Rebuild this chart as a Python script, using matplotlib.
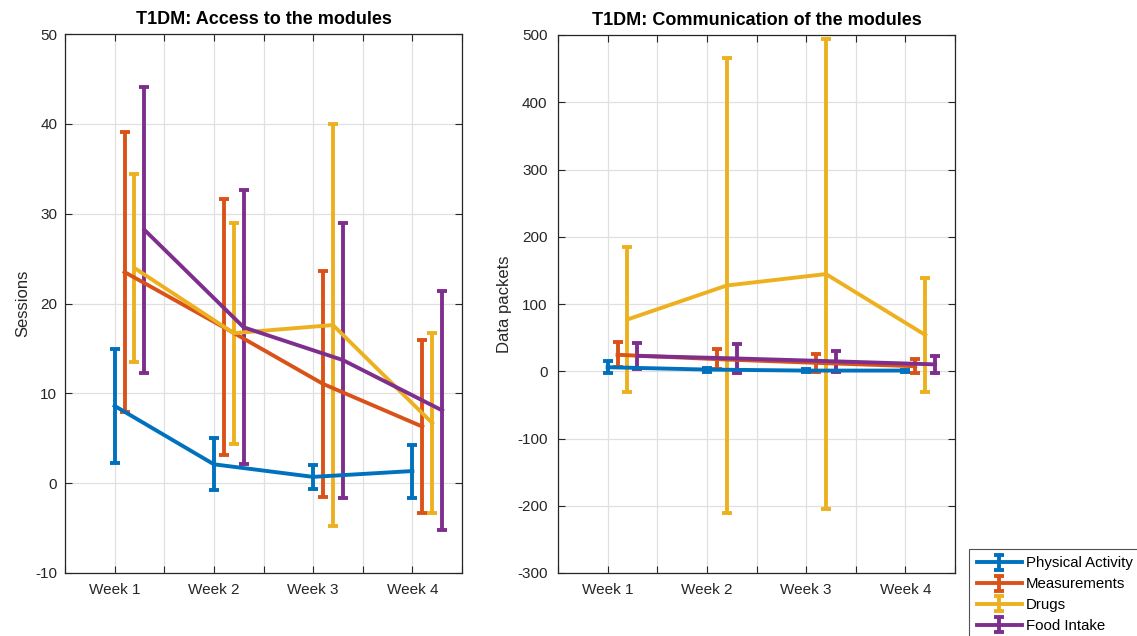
import matplotlib
matplotlib.use("Agg")
import matplotlib.pyplot as plt
import numpy as np
from matplotlib.ticker import MultipleLocator, FixedLocator

plt.rcParams['font.family'] = ['Liberation Sans', 'DejaVu Sans']
plt.rcParams['axes.unicode_minus'] = False

weeks = ["Week 1", "Week 2", "Week 3", "Week 4"]
series = ["Physical Activity", "Measurements", "Drugs", "Food Intake"]
colors = ["#0072BD", "#D95319", "#EDB120", "#7E2F8E"]
offsets = [0.0, 0.1, 0.2, 0.3]

# Left: sessions (mean, error)
sess_mean = {
    "Physical Activity": [8.6, 2.1, 0.7, 1.35],
    "Measurements": [23.5, 17.35, 11.05, 6.3],
    "Drugs": [23.95, 16.7, 17.6, 6.7],
    "Food Intake": [28.2, 17.35, 13.7, 8.1],
}
sess_err = {
    "Physical Activity": [6.3, 2.9, 1.35, 2.95],
    "Measurements": [15.6, 14.25, 12.55, 9.6],
    "Drugs": [10.45, 12.3, 22.4, 10.0],
    "Food Intake": [15.9, 15.25, 15.3, 13.3],
}
# Right: data packets (mean, error)
pack_mean = {
    "Physical Activity": [6.0, 2.5, 1.0, 1.0],
    "Measurements": [24.5, 18.0, 12.5, 7.5],
    "Drugs": [77.0, 127.5, 144.5, 54.0],
    "Food Intake": [22.8, 19.0, 14.7, 10.2],
}
pack_err = {
    "Physical Activity": [9.0, 3.0, 2.0, 1.5],
    "Measurements": [18.5, 14.7, 13.0, 10.5],
    "Drugs": [108.0, 338.5, 349.5, 84.5],
    "Food Intake": [19.7, 21.0, 15.3, 12.5],
}

W, H = 1137, 636
fig = plt.figure(figsize=(W / 100, H / 100), dpi=100)

def px_axes(l, r, t, b):
    return fig.add_axes([l / W, 1 - b / H, (r - l) / W, (b - t) / H])

ax1 = px_axes(65, 462, 34, 573)
ax2 = px_axes(558, 955, 35, 573)

x = np.arange(1, 5)
tc = "#262626"

def draw(ax, means, errs, title, ylabel, ylim, ystep, ypad):
    handles = []
    for s, c, o in zip(series, colors, offsets):
        h = ax.errorbar(x + o, means[s], yerr=errs[s], color=c, lw=2.8,
                        elinewidth=2.8, capsize=3.5, capthick=2.8, label=s, zorder=3)
        handles.append(h)
    ax.set_xlim(0.5, 4.5)
    ax.set_ylim(*ylim)
    ax.xaxis.set_major_locator(FixedLocator([1, 2, 3, 4]))
    ax.xaxis.set_minor_locator(FixedLocator([0.5, 1.5, 2.5, 3.5, 4.5]))
    ax.set_xticklabels(weeks)
    ax.yaxis.set_major_locator(MultipleLocator(ystep))
    ax.grid(True, which='major', color='#e0e0e0', lw=0.9, zorder=0)
    ax.grid(True, which='minor', axis='x', color='#e0e0e0', lw=0.9, zorder=0)
    ax.set_axisbelow(True)
    ax.tick_params(which='both', direction='in', top=True, right=True,
                   colors=tc, labelsize=11, length=5, width=0.8)
    ax.tick_params(axis='x', pad=7)
    ax.tick_params(axis='y', pad=ypad)
    for sp in ax.spines.values():
        sp.set_color(tc)
        sp.set_linewidth(0.9)
    ax.set_title(title, fontsize=13, fontweight='bold', color='black', pad=7)
    ax.set_ylabel(ylabel, fontsize=12, color=tc, labelpad=4)
    return handles

draw(ax1, sess_mean, sess_err, "T1DM: Access to the modules", "Sessions", (-10, 50), 10, 5.5)
handles = draw(ax2, pack_mean, pack_err, "T1DM: Communication of the modules", "Data packets", (-300, 500), 100, 7.5)

leg = fig.legend(handles=handles, labels=series, loc='upper left',
                 bbox_to_anchor=(969 / W, 1 - 549 / H), fontsize=10.8,
                 frameon=True, fancybox=False, borderpad=0.5, labelspacing=0.45,
                 handlelength=3.0, handletextpad=0.3, borderaxespad=0)
leg.get_frame().set_edgecolor(tc)
leg.get_frame().set_linewidth(0.8)

fig.savefig("out.png", dpi=100)
